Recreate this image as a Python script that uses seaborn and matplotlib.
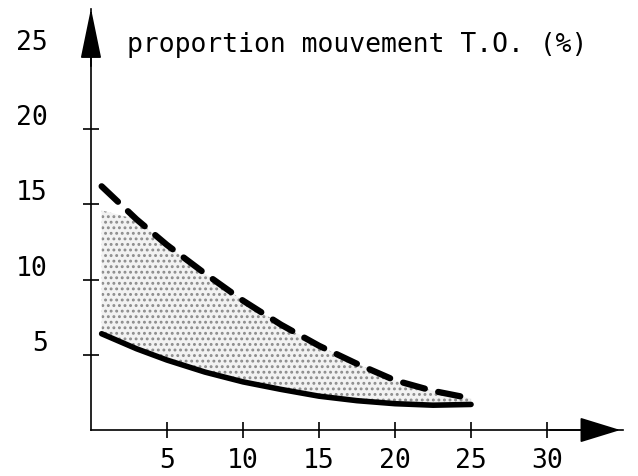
import numpy as np
import pandas as pd
import matplotlib
matplotlib.use("Agg")
import matplotlib.pyplot as plt
import matplotlib.transforms as mtrans
import seaborn as sns

# values
x_vals = [0.7, 3, 5, 7.5, 10, 12.5, 15, 17.5, 20, 22.5, 25]
upper = [16.2, 14.0, 12.3, 10.4, 8.6, 7.0, 5.6, 4.4, 3.3, 2.6, 2.1]
lower = [6.4, 5.4, 4.65, 3.85, 3.2, 2.7, 2.25, 1.95, 1.75, 1.65, 1.7]
shade_cap = 14.6
x_ticks = [5, 10, 15, 20, 25, 30]
y_ticks = [5, 10, 15, 20, 25]
title = "proportion mouvement T.O. (%)"

sns.set_style("ticks")
plt.rcParams['font.family'] = ['DejaVu Sans Mono']
plt.rcParams['hatch.linewidth'] = 1.3

df = pd.DataFrame({'x': x_vals, 'upper': upper, 'lower': lower})

fig = plt.figure(figsize=(6.38, 4.76), dpi=100)
ax = fig.add_axes([0.1426, 0.0966, 0.834, 0.885])

# stippled zone between the two curves
ax.fill_between(df['x'], df['lower'], np.minimum(df['upper'], shade_cap),
                facecolor='#f2f2f2', edgecolor='#8c8c8c', hatch='...', linewidth=0)

sns.lineplot(data=df, x='x', y='upper', ax=ax, color='black', lw=4.5,
             linestyle=(0, (3.6, 2.2)), dash_capstyle='round')
sns.lineplot(data=df, x='x', y='lower', ax=ax, color='black', lw=4,
             solid_capstyle='round')

ax.set_xlim(0, 35)
ax.set_ylim(0, 28)
for s in ['top', 'right']:
    ax.spines[s].set_visible(False)
for s in ['left', 'bottom']:
    ax.spines[s].set_linewidth(1.2)
    ax.spines[s].set_color('black')

ax.set_xticks(x_ticks)
ax.set_yticks(y_ticks)
ax.tick_params(axis='both', direction='inout', length=12, width=1.2,
               labelsize=19, colors='black', left=True, bottom=True)
ax.tick_params(axis='x', pad=7)
ax.tick_params(axis='y', pad=25)
ax.set_xlabel('')
ax.set_ylabel('')

# labels on the y axis sit a little above their ticks
shift = mtrans.ScaledTranslation(0, 10 / 72, fig.dpi_scale_trans)
for lab in ax.get_yticklabels():
    lab.set_transform(lab.get_transform() + shift)

# arrow heads on the axes
ax.annotate('', xy=(35, 0), xytext=(30, 0), annotation_clip=False,
            arrowprops=dict(arrowstyle='-|>,head_length=1.3,head_width=0.4',
                            color='black', lw=1.2, mutation_scale=20))
ax.annotate('', xy=(0, 28.2), xytext=(0, 24), annotation_clip=False,
            arrowprops=dict(arrowstyle='-|>,head_length=1.6,head_width=0.33',
                            color='black', lw=1.2, mutation_scale=20))

ax.text(2.4, 25.6, title, fontsize=19, va='center', ha='left', color='black')

fig.savefig('out.png', dpi=100)
